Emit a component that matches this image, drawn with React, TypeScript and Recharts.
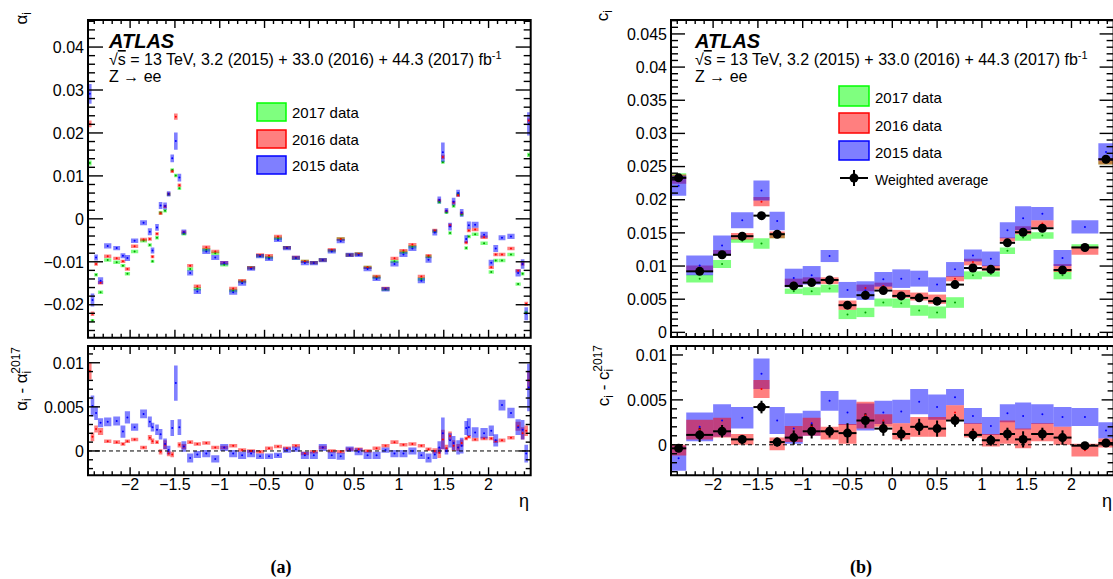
import React from 'react'
import { ComposedChart, XAxis, YAxis, ReferenceArea, ReferenceLine, Scatter, ErrorBar } from 'recharts'

const FONT = '"Liberation Sans", Arial, Helvetica, sans-serif'
const SERIF = '"Liberation Serif", "Times New Roman", serif'

// ---------- (a) alpha_i, 68 eta bins ----------
const etaA = [
  -2.45, -2.42, -2.38, -2.33, -2.25, -2.15, -2.08, -2.03, -1.95, -1.85, -1.78, -1.75, -1.7, -1.66, -1.61, -1.57, -1.53,
  -1.49, -1.45, -1.4, -1.33, -1.25, -1.15, -1.05, -0.95, -0.85, -0.75, -0.65, -0.55, -0.45, -0.35, -0.25, -0.15, -0.05,
  0.05, 0.15, 0.25, 0.35, 0.45, 0.55, 0.65, 0.75, 0.85, 0.95, 1.05, 1.15, 1.25, 1.33, 1.4, 1.45, 1.49,
  1.53, 1.57, 1.61, 1.66, 1.7, 1.75, 1.78, 1.85, 1.95, 2.03, 2.08, 2.15, 2.25, 2.33, 2.38, 2.42, 2.45,
]
const alpha2015 = [
  0.0291, -0.0189, -0.009, -0.0144, -0.0063, -0.0068, -0.0086, -0.0091, -0.0051, -0.0009, -0.003, -0.0074, -0.002, 0.0031, 0.003, 0.0058, 0.0141,
  0.0181, 0.0096, -0.0031, -0.0126, -0.0169, -0.0076, -0.009, -0.0103, -0.0171, -0.015, -0.0116, -0.0087, -0.0093, -0.0049, -0.0068, -0.0091, -0.0103,
  -0.0103, -0.0096, -0.0076, -0.0052, -0.0084, -0.0084, -0.0117, -0.014, -0.0164, -0.0105, -0.0083, -0.0069, -0.0144, -0.0095, -0.0032, 0.0044, 0.0155,
  0.0019, -0.0018, 0.004, 0.006, 0.0014, -0.0047, -0.0015, -0.0014, -0.0037, -0.0102, -0.0069, -0.0044, -0.0041, -0.0126, -0.0105, -0.0221, 0.0221,
]
const alpha2015Err = [
  0.0023, 0.0015, 0.0007, 0.0008, 0.0006, 0.0005, 0.0006, 0.0007, 0.0005, 0.0006, 0.0008, 0.0007, 0.0008, 0.0008, 0.0008, 0.0006, 0.0009,
  0.002, 0.0009, 0.0006, 0.0006, 0.0006, 0.0006, 0.0006, 0.0005, 0.0006, 0.0006, 0.0005, 0.0005, 0.0005, 0.0005, 0.0005, 0.0005, 0.0005,
  0.0005, 0.0005, 0.0005, 0.0005, 0.0005, 0.0005, 0.0005, 0.0005, 0.0005, 0.0006, 0.0006, 0.0006, 0.0006, 0.0007, 0.0007, 0.0008, 0.0023,
  0.0006, 0.0009, 0.0009, 0.0008, 0.0009, 0.0009, 0.0009, 0.0007, 0.0007, 0.0007, 0.0008, 0.0006, 0.0006, 0.0008, 0.0011, 0.0015, 0.0027,
]
const alpha2016 = [
  0.0221, -0.0221, -0.0105, -0.0149, -0.0087, -0.0092, -0.0099, -0.0117, -0.0064, -0.0048, -0.0047, -0.0088, -0.0035, 0.0013, 0.0029, 0.0058, 0.0111,
  0.0238, 0.0078, -0.0031, -0.0109, -0.0157, -0.0066, -0.0076, -0.0102, -0.0162, -0.0144, -0.0114, -0.0084, -0.0086, -0.0041, -0.0067, -0.009, -0.0099,
  -0.0102, -0.0096, -0.0072, -0.0047, -0.0084, -0.0082, -0.0113, -0.0134, -0.0162, -0.0092, -0.0074, -0.006, -0.0134, -0.0086, -0.0027, 0.0043, 0.0144,
  0.0018, -0.0015, 0.0038, 0.0055, 0.0013, -0.0055, -0.0027, -0.0025, -0.0043, -0.0113, -0.0083, -0.0083, -0.0069, -0.0121, -0.0105, -0.0198, 0.0229,
]
const alpha2016Err = [
  0.0008, 0.0005, 0.0004, 0.0004, 0.0004, 0.0004, 0.0004, 0.0004, 0.0004, 0.0004, 0.0004, 0.0004, 0.0004, 0.0004, 0.0004, 0.0004, 0.0004,
  0.0007, 0.0004, 0.0004, 0.0004, 0.0004, 0.0004, 0.0004, 0.0004, 0.0004, 0.0004, 0.0004, 0.0004, 0.0004, 0.0004, 0.0004, 0.0004, 0.0004,
  0.0004, 0.0004, 0.0004, 0.0004, 0.0004, 0.0004, 0.0004, 0.0004, 0.0004, 0.0004, 0.0004, 0.0004, 0.0004, 0.0004, 0.0004, 0.0004, 0.0005,
  0.0004, 0.0004, 0.0004, 0.0004, 0.0004, 0.0004, 0.0004, 0.0004, 0.0004, 0.0004, 0.0004, 0.0004, 0.0004, 0.0004, 0.0004, 0.0005, 0.0005,
]
const alpha2017 = [
  0.013, -0.0237, -0.013, -0.0171, -0.0096, -0.0101, -0.0109, -0.0128, -0.0076, -0.0051, -0.0061, -0.0099, -0.0044, 0.0014, 0.0019, 0.0057, 0.0114,
  0.0101, 0.0071, -0.0035, -0.0117, -0.0163, -0.0072, -0.008, -0.0107, -0.0167, -0.0146, -0.0114, -0.0086, -0.009, -0.0045, -0.0067, -0.0091, -0.0099,
  -0.0102, -0.0096, -0.0074, -0.0047, -0.0084, -0.0082, -0.0113, -0.0136, -0.0164, -0.0099, -0.0078, -0.0065, -0.014, -0.0088, -0.0029, 0.0039, 0.0132,
  0.0015, -0.0033, 0.003, 0.0058, 0.001, -0.0068, -0.0041, -0.0036, -0.0057, -0.0124, -0.0097, -0.0097, -0.0083, -0.0152, -0.0128, -0.0218, 0.0149,
]
const alpha2017Err = [
  0.0006, 0.0004, 0.0004, 0.0004, 0.0004, 0.0004, 0.0004, 0.0004, 0.0004, 0.0004, 0.0004, 0.0004, 0.0004, 0.0004, 0.0004, 0.0004, 0.0004,
  0.0004, 0.0004, 0.0004, 0.0004, 0.0004, 0.0004, 0.0004, 0.0004, 0.0004, 0.0004, 0.0004, 0.0004, 0.0004, 0.0004, 0.0004, 0.0004, 0.0004,
  0.0004, 0.0004, 0.0004, 0.0004, 0.0004, 0.0004, 0.0004, 0.0004, 0.0004, 0.0004, 0.0004, 0.0004, 0.0004, 0.0004, 0.0004, 0.0004, 0.0004,
  0.0004, 0.0004, 0.0004, 0.0004, 0.0004, 0.0004, 0.0004, 0.0004, 0.0004, 0.0004, 0.0004, 0.0004, 0.0004, 0.0004, 0.0004, 0.0004, 0.0005,
]
// alpha_i - alpha_i(2017)
const dAlpha2015 = [
  0.0161, 0.0051, 0.0043, 0.0032, 0.0033, 0.0034, 0.0022, 0.0038, 0.0027, 0.0042, 0.0033, 0.0027, 0.0024, 0.0019, 0.0008, 0.0001, 0.0026,
  0.0077, 0.0027, 0.0005, -0.0008, -0.0004, -0.0003, -0.0009, 0.0004, -0.0003, -0.0005, -0.0003, -0.0006, -0.0006, -0.0005, 0.0001, 0.0002, -0.0005,
  -0.0005, 0.0004, -0.0005, -0.0006, 0.0002, -0.0001, -0.0005, -0.0005, 0.0001, -0.0003, -0.0003, 0.0, -0.0005, -0.0008, -0.0004, 0.0004, 0.002,
  0.0, 0.0012, 0.0009, 0.0004, 0.0006, 0.0026, 0.0027, 0.0021, 0.002, 0.0023, 0.0012, 0.0052, 0.0043, 0.0027, 0.0024, -0.0003, 0.0072,
]
const dAlpha2015Err = [
  0.0024, 0.0012, 0.0008, 0.0005, 0.0005, 0.0005, 0.0007, 0.0007, 0.0004, 0.0005, 0.0006, 0.0005, 0.0006, 0.0006, 0.0006, 0.0005, 0.0009,
  0.002, 0.0009, 0.0006, 0.0005, 0.0004, 0.0004, 0.0004, 0.0004, 0.0004, 0.0004, 0.0004, 0.0003, 0.0003, 0.0003, 0.0003, 0.0003, 0.0004,
  0.0004, 0.0004, 0.0004, 0.0004, 0.0003, 0.0004, 0.0004, 0.0004, 0.0003, 0.0004, 0.0004, 0.0004, 0.0004, 0.0005, 0.0005, 0.0007, 0.0018,
  0.0004, 0.0008, 0.0008, 0.0008, 0.0009, 0.0008, 0.001, 0.0006, 0.0006, 0.0006, 0.0007, 0.0006, 0.0006, 0.0009, 0.0011, 0.001, 0.0027,
]
const dAlpha2016 = [
  0.0091, 0.0016, 0.0025, 0.0022, 0.0011, 0.001, 0.0008, 0.0011, 0.0013, 0.0004, 0.0015, 0.0011, 0.001, -0.0001, 0.0007, -0.0003, -0.0004,
  0.0137, 0.0007, 0.0005, 0.001, 0.0008, 0.0009, 0.0004, 0.0004, 0.0006, 0.0001, 0.0, -0.0001, 0.0003, 0.0005, 0.0003, 0.0006, -0.0003,
  -0.0001, 0.0004, 0.0, -0.0001, 0.0002, 0.0002, 0.0, 0.0003, 0.0006, 0.001, 0.0007, 0.0008, 0.0006, 0.0002, 0.0, -0.0002, 0.0013,
  0.0003, 0.0017, 0.0006, 0.0004, 0.0009, 0.0014, 0.0016, 0.0013, 0.0014, 0.0014, 0.0011, 0.0012, 0.0015, 0.0028, 0.002, 0.0023, 0.008,
]
const dAlpha2016Err = [
  0.001, 0.0005, 0.0004, 0.0004, 0.0002, 0.0002, 0.0002, 0.0002, 0.0002, 0.0002, 0.0003, 0.0003, 0.0002, 0.0003, 0.0005, 0.0003, 0.0003,
  0.0008, 0.0003, 0.0003, 0.0002, 0.0002, 0.0002, 0.0002, 0.0002, 0.0002, 0.0002, 0.0002, 0.0002, 0.0002, 0.0002, 0.0002, 0.0002, 0.0002,
  0.0002, 0.0002, 0.0002, 0.0002, 0.0002, 0.0002, 0.0002, 0.0002, 0.0002, 0.0002, 0.0002, 0.0002, 0.0002, 0.0002, 0.0003, 0.0006, 0.0011,
  0.0004, 0.0005, 0.0006, 0.0004, 0.0004, 0.0002, 0.0002, 0.0002, 0.0002, 0.0002, 0.0002, 0.0002, 0.0002, 0.0005, 0.0007, 0.0006, 0.0011,
]

// ---------- (b) c_i, 24 eta bins ----------
const edgesB = [-2.47, -2.3, -2.0, -1.8, -1.55, -1.37, -1.2, -1.0, -0.8, -0.6, -0.4, -0.2, 0, 0.2, 0.4, 0.6, 0.8, 1.0, 1.2, 1.37, 1.55, 1.8, 2.0, 2.3, 2.47]
const c2015 = [0.0221, 0.0101, 0.0131, 0.0169, 0.0214, 0.0168, 0.0082, 0.0086, 0.0115, 0.0064, 0.0063, 0.008, 0.0081, 0.0081, 0.0072, 0.0095, 0.0116, 0.0111, 0.0154, 0.0172, 0.0179, 0.0112, 0.0159, 0.0272]
const c2015Err = [0.0015, 0.0015, 0.0015, 0.0012, 0.0015, 0.0014, 0.0014, 0.0014, 0.0009, 0.0012, 0.0014, 0.0011, 0.0014, 0.0012, 0.0011, 0.0011, 0.0009, 0.0011, 0.0012, 0.0018, 0.001, 0.0012, 0.001, 0.0013]
const c2016 = [0.0231, 0.0096, 0.012, 0.0145, 0.0197, 0.0147, 0.0075, 0.0078, 0.0078, 0.0041, 0.0067, 0.007, 0.0058, 0.0054, 0.005, 0.0081, 0.0106, 0.0097, 0.014, 0.0154, 0.0164, 0.0097, 0.0123, 0.0258]
const c2016Err = [0.0007, 0.0005, 0.0004, 0.0005, 0.0007, 0.0005, 0.0006, 0.0005, 0.0005, 0.0007, 0.0005, 0.0005, 0.0006, 0.0006, 0.0007, 0.0004, 0.0005, 0.0004, 0.0003, 0.0006, 0.0005, 0.0006, 0.0006, 0.0005]
const c2017 = [0.0236, 0.0081, 0.0103, 0.0138, 0.0134, 0.0146, 0.0062, 0.0062, 0.0066, 0.0027, 0.003, 0.0045, 0.0044, 0.0033, 0.003, 0.0045, 0.0086, 0.0088, 0.0123, 0.0143, 0.0146, 0.0086, 0.013, 0.0256]
const c2017Err = [0.0004, 0.0006, 0.0006, 0.0003, 0.0008, 0.0004, 0.0004, 0.0006, 0.0006, 0.0007, 0.0007, 0.0006, 0.0007, 0.0008, 0.0009, 0.0008, 0.0006, 0.0004, 0.0005, 0.0005, 0.0005, 0.0006, 0.0003, 0.0003]
const cAvg = [0.0233, 0.0092, 0.0117, 0.0145, 0.0176, 0.0148, 0.007, 0.0075, 0.0079, 0.0041, 0.0056, 0.0063, 0.0055, 0.0052, 0.0047, 0.0072, 0.0097, 0.0095, 0.0135, 0.0151, 0.0157, 0.0094, 0.0128, 0.0261]
const cAvgErr = [0.0002, 0.0003, 0.0002, 0.0002, 0.0003, 0.0002, 0.0002, 0.0002, 0.0002, 0.0003, 0.0003, 0.0002, 0.0002, 0.0003, 0.0003, 0.0002, 0.0002, 0.0002, 0.0002, 0.0002, 0.0002, 0.0002, 0.0002, 0.0002]
// c_i - c_i(2017)
const dc2015 = [-0.0015, 0.002, 0.0027, 0.003, 0.0079, 0.0027, 0.0018, 0.0024, 0.0049, 0.0036, 0.0031, 0.0036, 0.0037, 0.0048, 0.0042, 0.0053, 0.0032, 0.0021, 0.0035, 0.0032, 0.0034, 0.0031, 0.0031, 0.0016]
const dc2015Err = [0.0014, 0.0016, 0.0018, 0.0012, 0.0017, 0.0015, 0.0017, 0.0014, 0.0011, 0.0014, 0.0015, 0.0013, 0.0013, 0.0014, 0.0014, 0.0009, 0.0009, 0.001, 0.001, 0.0015, 0.0011, 0.0011, 0.001, 0.0009]
const dc2016 = [-0.0006, 0.0017, 0.0019, 0.0006, 0.0062, 0.0001, 0.0012, 0.002, 0.0013, 0.0012, 0.0033, 0.0027, 0.0015, 0.002, 0.002, 0.0036, 0.0016, 0.0005, 0.0014, 0.0007, 0.0014, 0.001, -0.0006, 0.0002]
const dc2016Err = [0.0006, 0.0011, 0.0011, 0.0006, 0.001, 0.0007, 0.0009, 0.001, 0.0007, 0.0011, 0.0015, 0.0007, 0.0009, 0.0011, 0.0011, 0.0008, 0.0008, 0.0007, 0.0013, 0.0011, 0.001, 0.001, 0.0007, 0.0005]
const dcAvg = [-0.0004, 0.0011, 0.0015, 0.0006, 0.0042, 0.0003, 0.0008, 0.0015, 0.0015, 0.0013, 0.0027, 0.0018, 0.0012, 0.002, 0.0018, 0.0027, 0.0011, 0.0005, 0.0012, 0.0006, 0.0012, 0.0008, -0.0001, 0.0002]
const dcAvgErr = [0.0004, 0.0008, 0.0007, 0.0005, 0.0007, 0.0005, 0.0008, 0.0008, 0.0007, 0.0011, 0.0008, 0.0008, 0.0008, 0.0009, 0.0009, 0.0007, 0.0007, 0.0006, 0.0007, 0.0009, 0.0007, 0.0008, 0.0004, 0.0004]

const X_DOMAIN: [number, number] = [-2.47, 2.47]
const xMajor = [-2, -1.5, -1, -0.5, 0, 0.5, 1, 1.5, 2]
const xStep = 0.1

const GREEN = '#00ff00'
const RED = '#ff0000'
const BLUE = '#0000ff'

type Box = { x1: number; x2: number; y1: number; y2: number }
type Layer = { boxes: Box[]; color: string; dot: string }
type AvgPoint = { x: number; y: number; ex: number; ey: number }

// box half width for the alpha bins, taken from the neighbouring bin centres
const halfA = etaA.map((v, i) => {
  const gaps: number[] = []
  if (i > 0) gaps.push(v - etaA[i - 1])
  if (i < etaA.length - 1) gaps.push(etaA[i + 1] - v)
  return Math.max(0.02, (0.45 * gaps.reduce((a, b) => a + b, 0)) / gaps.length)
})

const boxesA = (vals: number[], errs: number[]): Box[] =>
  etaA.map((x, i) => ({ x1: x - halfA[i], x2: x + halfA[i], y1: vals[i] - errs[i], y2: vals[i] + errs[i] }))

const boxesB = (vals: number[], errs: number[]): Box[] =>
  vals.map((v, i) => ({ x1: edgesB[i], x2: edgesB[i + 1], y1: v - errs[i], y2: v + errs[i] }))

const avgB = (vals: number[], errs: number[]): AvgPoint[] =>
  vals.map((v, i) => ({ x: (edgesB[i] + edgesB[i + 1]) / 2, y: v, ex: (edgesB[i + 1] - edgesB[i]) / 2, ey: errs[i] }))

const fmt = (v: number) => (v < 0 ? '\u2212' : '') + String(Math.abs(v))

// plot-area offsets inside each chart svg (axes are 1px wide, recharts skips 0-size axes)
const ML = 90
const MR = 10
const MT = 6
const MB = 40

interface PanelProps {
  left: number
  top: number
  width: number
  height: number
  yDomain: [number, number]
  yMajor: number[]
  yStep: number
  yMajorLen: number
  yMinorLen: number
  xLabels: boolean
  layers: Layer[]
  avg?: AvgPoint[]
  zero?: boolean
}

function Panel(p: PanelProps) {
  const { width, height } = p
  const yTicks: number[] = []
  for (let k = Math.ceil(p.yDomain[0] / p.yStep - 1e-9); k * p.yStep <= p.yDomain[1] + 1e-12; k++) {
    yTicks.push(Number((k * p.yStep).toFixed(6)))
  }
  const xTicks: number[] = []
  for (let k = Math.ceil(X_DOMAIN[0] / xStep); k * xStep <= X_DOMAIN[1]; k++) xTicks.push(Number((k * xStep).toFixed(3)))

  const isMajor = (list: number[], v: number) => list.some((m) => Math.abs(m - v) < 1e-9)

  const YTick = (t: any) => {
    const v = t.payload.value
    const major = isMajor(p.yMajor, v)
    const len = major ? p.yMajorLen : p.yMinorLen
    return (
      <g>
        <line x1={ML} x2={ML + len} y1={t.y} y2={t.y} stroke="#000" strokeWidth={1.4} />
        <line x1={ML + width} x2={ML + width - len} y1={t.y} y2={t.y} stroke="#000" strokeWidth={1.4} />
        {major && (
          <text x={ML - 4} y={t.y} dy="0.36em" textAnchor="end" fontSize={16} fontFamily={FONT} fill="#000">
            {fmt(v)}
          </text>
        )}
      </g>
    )
  }

  const XTick = (t: any) => {
    const v = t.payload.value
    const major = isMajor(xMajor, v)
    const len = major ? 8 : 4
    const bottom = MT + height
    return (
      <g>
        <line x1={t.x} x2={t.x} y1={bottom} y2={bottom - len} stroke="#000" strokeWidth={1.4} />
        <line x1={t.x} x2={t.x} y1={MT} y2={MT + len} stroke="#000" strokeWidth={1.4} />
        {p.xLabels && major && (
          <text x={t.x} y={bottom + 15} textAnchor="middle" fontSize={16} fontFamily={FONT} fill="#000">
            {fmt(v)}
          </text>
        )}
      </g>
    )
  }

  const inRange = (b: Box) => {
    const c = (b.y1 + b.y2) / 2
    return c >= p.yDomain[0] && c <= p.yDomain[1]
  }

  return (
    <div style={{ position: 'absolute', left: p.left - ML, top: p.top - MT }}>
      <ComposedChart width={width + ML + MR} height={height + MT + MB} margin={{ top: MT, right: MR, bottom: MB - 1, left: ML - 1 }}>
        <XAxis dataKey="x" type="number" domain={X_DOMAIN} ticks={xTicks} interval={0} tick={XTick} tickLine={false} axisLine={false} height={1} allowDataOverflow />
        <YAxis dataKey="y" type="number" domain={p.yDomain} ticks={yTicks} interval={0} tick={YTick} tickLine={false} axisLine={false} width={1} allowDataOverflow />
        {p.layers.map((l, li) =>
          l.boxes.map((b, i) => (
            <ReferenceArea key={`b${li}-${i}`} x1={b.x1} x2={b.x2} y1={b.y1} y2={b.y2} fill={l.color} fillOpacity={0.5} stroke="none" ifOverflow="hidden" />
          ))
        )}
        {p.zero && <ReferenceLine y={0} stroke="#000" strokeWidth={1} strokeDasharray="4 3" />}
        {p.layers.map((l, li) => (
          <Scatter
            key={`s${li}`}
            data={l.boxes.filter(inRange).map((b) => ({ x: (b.x1 + b.x2) / 2, y: (b.y1 + b.y2) / 2 }))}
            isAnimationActive={false}
            shape={(s: any) => <circle cx={s.cx} cy={s.cy} r={1} fill={l.dot} />}
          />
        ))}
        {p.avg && (
          <Scatter data={p.avg} isAnimationActive={false} shape={(s: any) => <circle cx={s.cx} cy={s.cy} r={4.5} fill="#000" />}>
            <ErrorBar dataKey="ey" direction="y" width={0} stroke="#000" strokeWidth={2} isAnimationActive={false} />
            <ErrorBar dataKey="ex" direction="x" width={0} stroke="#000" strokeWidth={2} isAnimationActive={false} />
          </Scatter>
        )}
        <ReferenceArea x1={X_DOMAIN[0]} x2={X_DOMAIN[1]} y1={p.yDomain[0]} y2={p.yDomain[1]} fill="none" stroke="#000" strokeWidth={2} ifOverflow="visible" />
      </ComposedChart>
    </div>
  )
}

function Overlay() {
  const t = { fontFamily: FONT, fill: '#000' }
  const legendBox = (x: number, y: number, w: number, h: number, c: string) => (
    <rect x={x} y={y} width={w} height={h} fill={c} fillOpacity={0.5} stroke={c} strokeWidth={1.5} />
  )
  return (
    <svg width={1113} height={579} style={{ position: 'absolute', left: 0, top: 0, pointerEvents: 'none' }}>
      {/* panel (a) */}
      <text x={109} y={48} fontSize={20} fontWeight="bold" fontStyle="italic" {...t}>ATLAS</text>
      <text x={109} y={65} fontSize={16} {...t}>
        √<tspan style={{ textDecoration: 'overline' }}>s</tspan> = 13 TeV, 3.2 (2015) + 33.0 (2016) + 44.3 (2017) fb<tspan fontSize={11} dy={-6}>-1</tspan>
      </text>
      <text x={109} y={82} fontSize={16} {...t}>Z → ee</text>
      {legendBox(257, 103, 29, 18, GREEN)}
      {legendBox(257, 130, 29, 18, RED)}
      {legendBox(257, 156, 29, 18, BLUE)}
      <text x={292} y={118} fontSize={15} {...t}>2017 data</text>
      <text x={292} y={145} fontSize={15} {...t}>2016 data</text>
      <text x={292} y={171} fontSize={15} {...t}>2015 data</text>
      <text transform="rotate(-90 27 12)" x={27} y={12} textAnchor="end" fontSize={17} {...t}>
        α<tspan fontSize={12} dy={4}>i</tspan>
      </text>
      <text transform="rotate(-90 27 347)" x={27} y={347} textAnchor="end" fontSize={17} {...t}>
        α<tspan fontSize={12} dy={4}>i</tspan>
        <tspan dy={-4}> - α</tspan>
        <tspan fontSize={12} dy={4}>i</tspan>
        <tspan fontSize={12} dx={-3} dy={-11}>2017</tspan>
      </text>
      <text x={524} y={507} fontSize={18} textAnchor="middle" {...t}>η</text>
      <text x={281} y={573} fontSize={18} fontWeight="bold" textAnchor="middle" fontFamily={SERIF} fill="#000">(a)</text>

      {/* panel (b) */}
      <text x={695} y={48} fontSize={20} fontWeight="bold" fontStyle="italic" {...t}>ATLAS</text>
      <text x={695} y={65} fontSize={16} {...t}>
        √<tspan style={{ textDecoration: 'overline' }}>s</tspan> = 13 TeV, 3.2 (2015) + 33.0 (2016) + 44.3 (2017) fb<tspan fontSize={11} dy={-6}>-1</tspan>
      </text>
      <text x={695} y={82} fontSize={16} {...t}>Z → ee</text>
      {legendBox(839, 86, 30, 20, GREEN)}
      {legendBox(839, 113, 30, 20, RED)}
      {legendBox(839, 141, 30, 19, BLUE)}
      <line x1={840} x2={868} y1={178} y2={178} stroke="#000" strokeWidth={2} />
      <line x1={854} x2={854} y1={170} y2={186} stroke="#000" strokeWidth={2} />
      <circle cx={854} cy={178} r={4.5} fill="#000" />
      <text x={875} y={103} fontSize={15} {...t}>2017 data</text>
      <text x={875} y={131} fontSize={15} {...t}>2016 data</text>
      <text x={875} y={158} fontSize={15} {...t}>2015 data</text>
      <text x={875} y={185} fontSize={14} {...t}>Weighted average</text>
      <text transform="rotate(-90 608 10)" x={608} y={10} textAnchor="end" fontSize={17} {...t}>
        c<tspan fontSize={12} dy={4}>i</tspan>
      </text>
      <text transform="rotate(-90 609 345)" x={609} y={345} textAnchor="end" fontSize={17} {...t}>
        c<tspan fontSize={12} dy={4}>i</tspan>
        <tspan dy={-4}> - c</tspan>
        <tspan fontSize={12} dy={4}>i</tspan>
        <tspan fontSize={12} dx={-3} dy={-11}>2017</tspan>
      </text>
      <text x={1107} y={507} fontSize={18} textAnchor="middle" {...t}>η</text>
      <text x={861} y={573} fontSize={18} fontWeight="bold" textAnchor="middle" fontFamily={SERIF} fill="#000">(b)</text>
    </svg>
  )
}

export default function App() {
  const upperA: Layer[] = [
    { boxes: boxesA(alpha2017, alpha2017Err), color: GREEN, dot: '#00a000' },
    { boxes: boxesA(alpha2016, alpha2016Err), color: RED, dot: RED },
    { boxes: boxesA(alpha2015, alpha2015Err), color: BLUE, dot: BLUE },
  ]
  const lowerA: Layer[] = [
    { boxes: boxesA(dAlpha2016, dAlpha2016Err), color: RED, dot: RED },
    { boxes: boxesA(dAlpha2015, dAlpha2015Err), color: BLUE, dot: BLUE },
  ]
  const upperB: Layer[] = [
    { boxes: boxesB(c2017, c2017Err), color: GREEN, dot: '#00a000' },
    { boxes: boxesB(c2016, c2016Err), color: RED, dot: RED },
    { boxes: boxesB(c2015, c2015Err), color: BLUE, dot: BLUE },
  ]
  const lowerB: Layer[] = [
    { boxes: boxesB(dc2015, dc2015Err), color: BLUE, dot: BLUE },
    { boxes: boxesB(dc2016, dc2016Err), color: RED, dot: RED },
  ]

  return (
    <div style={{ position: 'fixed', left: 0, top: 0, width: 1113, height: 579, overflow: 'hidden', background: '#fff', fontFamily: FONT }}>
      <Panel left={88} top={19.5} width={442.7} height={317.8} yDomain={[-0.0277, 0.0463]} yMajor={[-0.02, -0.01, 0, 0.01, 0.02, 0.03, 0.04]}
        yStep={0.002} yMajorLen={15} yMinorLen={7} xLabels={false} layers={upperA} />
      <Panel left={88} top={345.7} width={442.7} height={129.3} yDomain={[-0.00276, 0.0119]} yMajor={[0, 0.005, 0.01]}
        yStep={0.001} yMajorLen={12} yMinorLen={5} xLabels layers={lowerA} zero />
      <Panel left={670.7} top={19.5} width={442.6} height={317} yDomain={[-0.0007, 0.0471]}
        yMajor={[0, 0.005, 0.01, 0.015, 0.02, 0.025, 0.03, 0.035, 0.04, 0.045]}
        yStep={0.001} yMajorLen={14} yMinorLen={7} xLabels={false} layers={upperB} avg={avgB(cAvg, cAvgErr)} />
      <Panel left={670.7} top={345.7} width={442.6} height={129.3} yDomain={[-0.0034, 0.011]} yMajor={[0, 0.005, 0.01]}
        yStep={0.001} yMajorLen={12} yMinorLen={6} xLabels layers={lowerB} avg={avgB(dcAvg, dcAvgErr)} zero />
      <Overlay />
    </div>
  )
}
